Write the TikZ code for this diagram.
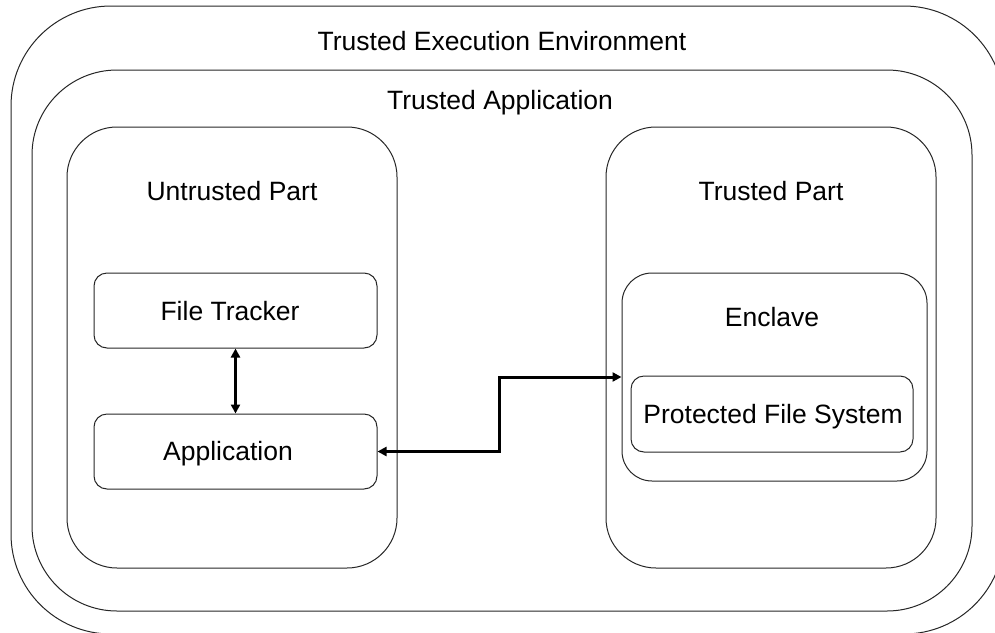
\documentclass[tikz,border=0pt]{standalone}
\usepackage{fontspec}
\setmainfont{Liberation Sans}
\usetikzlibrary{arrows.meta}

\tikzset{
  box/.style={draw=black!85, line width=1pt, rectangle, inner sep=0pt, fill=none},
  title/.style={inner sep=0pt, text height=19pt, text depth=0pt,
    font=\fontsize{26.5}{30}\selectfont},
  biarrow/.style={line width=3pt, {Triangle[length=9pt,width=9pt]}-{Triangle[length=9pt,width=9pt]}}
}

\begin{document}
\begin{tikzpicture}[x=1pt, y=-1pt]
  \useasboundingbox (0,0) rectangle (995,632);
  \clip (0,0) rectangle (995,632);

  % nested containers
  \node[box, rounded corners=100pt, minimum width=993pt, minimum height=628pt] (tee) at (507.5,320) {};
  \node[box, rounded corners=85pt, minimum width=940pt, minimum height=541pt] (ta) at (502,340.5) {};
  \node[box, rounded corners=50pt, minimum width=330pt, minimum height=441pt] (unt) at (232,347.5) {};
  \node[box, rounded corners=50pt, minimum width=330pt, minimum height=441pt] (trp) at (771,347.5) {};
  \node[box, rounded corners=30pt, minimum width=305pt, minimum height=208pt] (enc) at (774.5,377) {};

  % container titles
  \node[title] (teeT) at (502,41) {Trusted Execution Environment};
  \node[title] (taT) at (500,100) {Trusted Application};
  \node[title] (untT) at (232,191) {Untrusted Part};
  \node[title] (trpT) at (771,191) {Trusted Part};
  \node[title] (encT) at (772,317) {Enclave};

  % inner components
  \node[box, rounded corners=13pt, minimum width=283pt, minimum height=75pt] (ft) at (235.5,310.5) {};
  \node[title] (ftT) at (230,311) {File Tracker};
  \node[box, rounded corners=13pt, minimum width=283pt, minimum height=75pt] (app) at (235.5,451.5) {};
  \node[title] (appT) at (228,451) {Application};
  \node[box, rounded corners=13pt, minimum width=282pt, minimum height=76pt] (pfs) at (772,414) {};
  \node[title] (pfsT) at (773,414) {Protected File System};

  % connectors
  \draw[biarrow] (ft.south) -- (app.north);
  \coordinate (bend) at (499,451.5);
  \draw[biarrow] (app.east) -- (bend) |- (enc.west);
\end{tikzpicture}
\end{document}
